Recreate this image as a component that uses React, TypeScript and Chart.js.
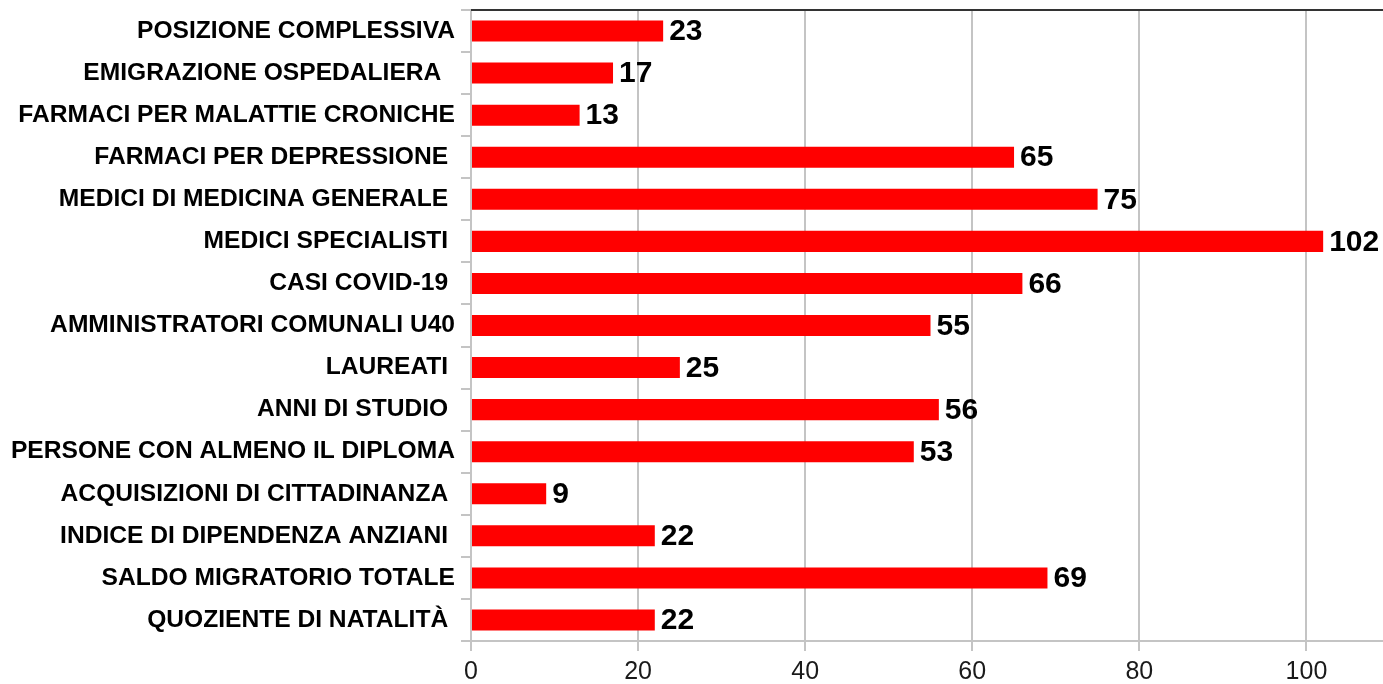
import React, { useEffect, useRef } from "react";
import { Chart, registerables } from "chart.js";

Chart.register(...registerables);

const categories = [
  "POSIZIONE COMPLESSIVA",
  "EMIGRAZIONE OSPEDALIERA  ",
  "FARMACI PER MALATTIE CRONICHE",
  "FARMACI PER DEPRESSIONE ",
  "MEDICI DI MEDICINA GENERALE ",
  "MEDICI SPECIALISTI ",
  "CASI COVID-19 ",
  "AMMINISTRATORI COMUNALI U40",
  "LAUREATI ",
  "ANNI DI STUDIO ",
  "PERSONE CON ALMENO IL DIPLOMA",
  "ACQUISIZIONI DI CITTADINANZA ",
  "INDICE DI DIPENDENZA ANZIANI ",
  "SALDO MIGRATORIO TOTALE",
  "QUOZIENTE DI NATALITÀ ",
];

const values = [23, 17, 13, 65, 75, 102, 66, 55, 25, 56, 53, 9, 22, 69, 22];

const xTicks = [0, 20, 40, 60, 80, 100];

const valueLabelPlugin = {
  id: "valueLabels",
  afterDatasetsDraw(chart: any) {
    const ctx = chart.ctx;
    const meta = chart.getDatasetMeta(0);
    ctx.save();
    ctx.font = "bold 30px 'Liberation Sans', Arial, sans-serif";
    ctx.fillStyle = "#000";
    ctx.textAlign = "left";
    ctx.textBaseline = "middle";
    meta.data.forEach((bar: any, i: number) => {
      ctx.fillText(String(values[i]), bar.x + 6, bar.y + 1);
    });
    ctx.restore();
  },
};

const topBorderPlugin = {
  id: "topBorder",
  afterDraw(chart: any) {
    const { ctx, chartArea } = chart;
    ctx.save();
    ctx.strokeStyle = "#333";
    ctx.lineWidth = 2;
    ctx.beginPath();
    ctx.moveTo(chartArea.left, chartArea.top);
    ctx.lineTo(chartArea.right + 10, chartArea.top);
    ctx.stroke();
    ctx.restore();
  },
};

export default function App() {
  const ref = useRef<HTMLCanvasElement>(null);

  useEffect(() => {
    if (!ref.current) return;
    const chart = new Chart(ref.current, {
      type: "bar",
      data: {
        labels: categories,
        datasets: [
          {
            data: values,
            backgroundColor: "#ff0000",
            borderWidth: 0,
            barPercentage: 0.5,
            categoryPercentage: 1,
          },
        ],
      },
      options: {
        indexAxis: "y",
        animation: false,
        responsive: false,
        maintainAspectRatio: false,
        layout: { padding: { top: 10, right: 0, left: 0, bottom: 0 } },
        plugins: {
          legend: { display: false },
          tooltip: { enabled: false },
        },
        scales: {
          x: {
            min: 0,
            max: 110,
            afterBuildTicks(scale: any) {
              scale.ticks = xTicks.map((v) => ({ value: v }));
            },
            afterFit(scale: any) {
              scale.height = 43;
              scale.paddingLeft = 0;
              scale.paddingRight = 0;
            },
            grid: {
              color: "#c4c4c4",
              lineWidth: 2,
              tickLength: 10,
              drawTicks: true,
            },
            border: { display: true, color: "#c4c4c4", width: 2 },
            ticks: {
              padding: 6,
              color: "#1a1a1a",
              font: { family: "'Liberation Sans', Arial, sans-serif", size: 25 },
            },
          },
          y: {
            afterFit(scale: any) {
              scale.width = 471;
              scale.paddingTop = 0;
              scale.paddingBottom = 0;
            },
            grid: {
              offset: true,
              drawOnChartArea: false,
              color: "#c4c4c4",
              lineWidth: 2,
              tickLength: 10,
            },
            border: { display: true, color: "#c4c4c4", width: 2 },
            ticks: {
              padding: 6,
              color: "#000",
              autoSkip: false,
              font: {
                family: "'Liberation Sans', Arial, sans-serif",
                size: 24.6,
                weight: "bold",
              },
            },
          },
        },
      },
      plugins: [valueLabelPlugin, topBorderPlugin],
    });
    return () => chart.destroy();
  }, []);

  return (
    <div style={{ position: "fixed", left: 0, top: 0, width: 1390, height: 684 }}>
      <canvas ref={ref} width={1390} height={684} style={{ display: "block" }} />
    </div>
  );
}
